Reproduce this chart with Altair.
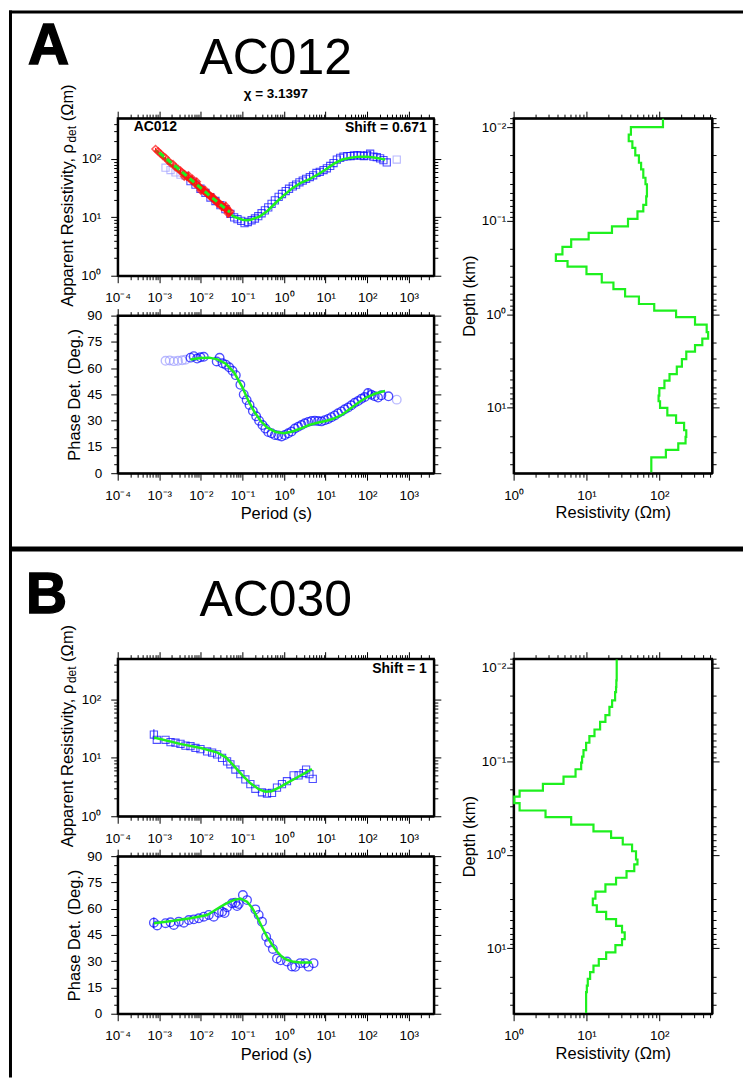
import altair as alt
import pandas as pd

FONT = "Liberation Sans"
BLUE = "#0505ff"
LIGHT = "#9d9dff"
RED = "#ff1010"
GREEN = "#1ef01e"

# ---------------- Section A : AC012 (values as log10 of period / resistivity) -------------
A_rho_masked_lt = [-2.85, -2.73, -2.61, -2.49, -2.37, 2.71]
A_rho_masked_lr = [1.85, 1.81, 1.77, 1.73, 1.71, 1.99]
A_rho_lt = [-2.25, -2.13, -2.01, -1.89, -1.77, -1.65, -1.53, -1.41, -1.29, -1.20, -1.12, -1.03, -0.95, -0.87,
            -0.78, -0.70, -0.62, -0.54, -0.46, -0.38, -0.30, -0.22, -0.13, -0.05, 0.04, 0.12, 0.21, 0.29, 0.37,
            0.45, 0.53, 0.62, 0.70, 0.78, 0.86, 0.95, 1.03, 1.11, 1.19, 1.27, 1.35, 1.43, 1.52, 1.60, 1.68, 1.76,
            1.84, 1.92, 2.00, 2.07, 2.15, 2.23, 2.31, 2.39, 2.47]
A_rho_lr = [1.62, 1.56, 1.49, 1.42, 1.34, 1.28, 1.21, 1.14, 1.06, 1.00, 0.97, 0.94, 0.90, 0.92, 0.95, 0.98, 1.02,
            1.07, 1.12, 1.17, 1.23, 1.29, 1.35, 1.40, 1.45, 1.49, 1.53, 1.56, 1.60, 1.63, 1.66, 1.69, 1.72, 1.76,
            1.78, 1.81, 1.84, 1.88, 1.93, 1.99, 2.02, 2.04, 2.05, 2.05, 2.06, 2.06, 2.06, 2.05, 2.06, 2.09, 2.04,
            2.03, 2.01, 1.98, 1.94]
A_rho_eb_lt = [2.07]
A_rho_eb_lr = [2.09]
A_rho_eb_e = [0.05]
A_red_lt = [-3.09, -3.03, -2.97, -2.91, -2.85, -2.79, -2.73, -2.67, -2.61, -2.55, -2.49, -2.44, -2.39, -2.34,
            -2.29, -2.24, -2.19, -2.14, -2.10, -2.06, -2.02, -1.98, -1.94, -1.90, -1.86, -1.82, -1.78, -1.74,
            -1.70, -1.66, -1.62, -1.58, -1.54, -1.50, -1.46, -1.42, -1.38, -1.35, -1.32, -1.30, -2.40, -2.30,
            -2.20, -2.10, -2.00, -1.90, -1.80, -1.70, -1.60, -1.50, -1.40, -1.35]
A_red_lr = [2.17, 2.13, 2.09, 2.05, 2.02, 1.97, 1.93, 1.91, 1.86, 1.83, 1.80, 1.76, 1.74, 1.70, 1.68, 1.64, 1.62,
            1.58, 1.57, 1.53, 1.51, 1.49, 1.46, 1.44, 1.41, 1.40, 1.36, 1.35, 1.31, 1.30, 1.27, 1.26, 1.22, 1.21,
            1.18, 1.16, 1.13, 1.12, 1.08, 1.10, 1.70, 1.72, 1.66, 1.61, 1.46, 1.47, 1.38, 1.34, 1.24, 1.18, 1.19,
            1.07]
A_red_e = [0.02, 0.02, 0.02, 0.02, 0.02, 0.03, 0.03, 0.03, 0.03, 0.03, 0.04, 0.04, 0.04, 0.05, 0.05, 0.04, 0.05,
           0.05, 0.06, 0.05, 0.05, 0.06, 0.05, 0.06, 0.06, 0.05, 0.06, 0.07, 0.06, 0.06, 0.07, 0.06, 0.07, 0.07,
           0.06, 0.07, 0.08, 0.07, 0.08, 0.08, 0.05, 0.05, 0.05, 0.06, 0.06, 0.06, 0.06, 0.07, 0.07, 0.07, 0.08,
           0.08]
A_fit_lt = [-3.09, -2.8, -2.5, -2.2, -1.9, -1.6, -1.4, -1.2, -1.0, -0.9, -0.8, -0.6, -0.4, -0.2, 0.0, 0.2, 0.4,
            0.6, 0.8, 1.0, 1.2, 1.4, 1.6, 1.8, 2.0, 2.2, 2.43]
A_fit_lr = [2.15, 1.95, 1.77, 1.59, 1.41, 1.23, 1.11, 1.01, 0.96, 0.95, 0.96, 1.01, 1.11, 1.25, 1.38, 1.50, 1.59,
            1.65, 1.73, 1.82, 1.92, 1.99, 2.02, 2.04, 2.04, 2.02, 1.99]
A_fitred_lt = [-3.0, -2.5, -2.0, -1.5, -1.3]
A_fitred_lr = [2.11, 1.81, 1.50, 1.20, 1.09]

A_ph_masked_lt = [-2.85, -2.75, -2.65, -2.55, -2.45, -2.37, 2.71]
A_ph_masked_v = [64.2, 64.4, 64.0, 64.2, 64.5, 64.8, 42.0]
A_ph_lt = [-2.25, -2.17, -2.09, -2.01, -1.93, -1.62, -1.55, -1.48, -1.40, -1.32, -1.24, -1.16, -1.05, -0.97,
           -0.90, -0.83, -0.75, -0.67, -0.60, -0.52, -0.45, -0.38, -0.30, -0.22, -0.14, -0.06, 0.02, 0.10, 0.18,
           0.26, 0.34, 0.42, 0.50, 0.58, 0.66, 0.74, 0.82, 0.90, 0.98, 1.06, 1.14, 1.22, 1.30, 1.38, 1.46, 1.54,
           1.62, 1.70, 1.78, 1.86, 1.94, 2.02, 2.10, 2.18, 2.26, 2.34, 2.51]
A_ph_v = [66.0, 66.8, 65.5, 66.2, 66.5, 63.8, 65.9, 62.8, 62.0, 60.5, 58.5, 56.0, 50.5, 45.0, 41.8, 39.0, 35.5,
          32.5, 30.0, 27.5, 25.5, 23.5, 22.8, 21.8, 21.5, 21.0, 21.8, 22.8, 23.8, 25.5, 26.5, 27.5, 28.5, 29.3,
          29.8, 30.0, 29.8, 29.6, 30.3, 31.0, 32.0, 33.0, 34.2, 35.3, 36.5, 37.5, 38.8, 40.2, 41.2, 42.5, 43.5,
          45.8, 44.8, 44.0, 43.2, 44.5, 43.9]
A_ph_eb_lt = [1.94, 2.02, 2.10]
A_ph_eb_v = [43.5, 45.8, 44.8]
A_ph_eb_e = [2.0, 2.5, 2.0]
A_phfit_lt = [-2.25, -2.0, -1.8, -1.6, -1.4, -1.2, -1.0, -0.85, -0.7, -0.55, -0.4, -0.2, 0.0, 0.2, 0.4, 0.6, 0.8,
              1.0, 1.2, 1.4, 1.6, 1.8, 2.0, 2.2, 2.43]
A_phfit_v = [65.0, 65.8, 66.0, 65.0, 62.5, 57.5, 49.0, 41.0, 34.5, 29.5, 26.0, 23.5, 22.8, 23.8, 25.5, 27.5, 28.8,
             29.8, 31.2, 33.5, 37.0, 40.5, 43.5, 45.5, 47.0]

# model A: log10 of layer top depth (km) and log10 of resistivity (last entry = bottom)
A_mod_ld = [-2.09, -2.0, -1.92, -1.85, -1.78, -1.70, -1.62, -1.55, -1.46, -1.39, -1.26, -1.17, -1.10, -1.02,
            -0.94, -0.87, -0.80, -0.72, -0.64, -0.57, -0.51, -0.43, -0.34, -0.27, -0.19, -0.11, -0.04, 0.03, 0.11,
            0.19, 0.26, 0.33, 0.40, 0.48, 0.56, 0.64, 0.71, 0.79, 0.87, 0.93, 1.00, 1.08, 1.16, 1.24, 1.31, 1.38,
            1.45, 1.53, 1.69]
A_mod_lr = [2.05, 1.61, 1.58, 1.63, 1.67, 1.72, 1.75, 1.78, 1.81, 1.83, 1.82, 1.78, 1.70, 1.57, 1.35, 1.03, 0.79,
            0.67, 0.58, 0.74, 1.00, 1.21, 1.37, 1.53, 1.72, 1.93, 2.23, 2.49, 2.65, 2.67, 2.59, 2.49, 2.37, 2.31,
            2.24, 2.14, 2.07, 2.00, 1.99, 2.01, 2.11, 2.23, 2.34, 2.37, 2.36, 2.26, 2.09, 1.89, 1.89]

# ---------------- Section B : AC030 ----------------
B_rho_lt = [-3.13, -3.06, -2.85, -2.73, -2.61, -2.49, -2.37, -2.25, -2.13, -2.01, -1.85, -1.73, -1.61, -1.49,
            -1.37, -1.29, -1.17, -1.05, -0.93, -0.81, -0.69, -0.53, -0.41, -0.29, -0.17, -0.05, 0.07, 0.23, 0.35,
            0.47, 0.53, 0.61, 0.69]
B_rho_lr = [1.40, 1.31, 1.31, 1.27, 1.26, 1.24, 1.21, 1.20, 1.17, 1.15, 1.11, 1.09, 1.06, 1.00, 0.94, 0.89, 0.80,
            0.72, 0.63, 0.55, 0.47, 0.41, 0.39, 0.40, 0.49, 0.55, 0.60, 0.70, 0.70, 0.74, 0.80, 0.72, 0.64]
B_rho_eb_lt = [-3.13]
B_rho_eb_lr = [1.40]
B_rho_eb_e = [0.09]
B_fit_lt = [-3.13, -2.5, -2.0, -1.6, -1.4, -1.2, -1.0, -0.8, -0.6, -0.45, -0.3, -0.1, 0.1, 0.3, 0.5, 0.67]
B_fit_lr = [1.35, 1.24, 1.17, 1.09, 1.01, 0.86, 0.70, 0.56, 0.46, 0.42, 0.43, 0.50, 0.58, 0.66, 0.74, 0.81]

B_ph_lt = [-3.13, -3.05, -2.85, -2.73, -2.65, -2.53, -2.41, -2.29, -2.17, -2.05, -1.93, -1.81, -1.69, -1.57,
           -1.49, -1.43, -1.37, -1.25, -1.17, -1.13, -1.09, -0.99, -0.89, -0.69, -0.61, -0.53, -0.43, -0.36,
           -0.27, -0.17, -0.08, 0.07, 0.19, 0.27, 0.39, 0.51, 0.59, 0.71]
B_ph_v = [52.0, 50.4, 51.7, 52.2, 50.7, 52.6, 52.0, 53.5, 53.9, 54.5, 55.4, 56.4, 55.4, 57.7, 58.3, 57.5, 60.8,
          63.1, 63.4, 61.5, 62.7, 67.8, 64.9, 59.6, 56.4, 52.6, 44.0, 40.5, 37.0, 31.5, 30.5, 29.8, 27.0, 26.8,
          28.9, 28.9, 26.9, 28.9]
B_ph_eb_lt = [-3.13]
B_ph_eb_v = [52.0]
B_ph_eb_e = [3.0]
B_phfit_lt = [-3.13, -2.7, -2.25, -1.85, -1.7, -1.53, -1.35, -1.21, -1.05, -0.89, -0.77, -0.65, -0.53, -0.41,
              -0.29, -0.17, -0.05, 0.07, 0.2, 0.39, 0.67]
B_phfit_v = [51.7, 53.0, 54.5, 56.4, 58.5, 61.1, 63.5, 64.9, 65.8, 64.0, 60.5, 55.4, 49.5, 44.0, 39.5, 35.5, 32.5,
             30.8, 29.8, 29.2, 29.2]

B_mod_ld = [-2.088, -1.865, -1.794, -1.74, -1.652, -1.581, -1.493, -1.421, -1.34, -1.269, -1.198, -1.12, -1.049,
            -0.985, -0.915, -0.836, -0.759, -0.687, -0.623, -0.553, -0.474, -0.404, -0.322, -0.251, -0.181, -0.11,
            -0.038, 0.05, 0.103, 0.174, 0.245, 0.316, 0.394, 0.468, 0.539, 0.61, 0.688, 0.759, 0.83, 0.901, 0.965,
            1.043, 1.114, 1.185, 1.255, 1.327, 1.398, 1.468, 1.69]
B_mod_lr = [1.415, 1.41, 1.406, 1.393, 1.352, 1.315, 1.26, 1.187, 1.11, 1.04, 0.995, 0.959, 0.94, 0.927, 0.85,
            0.685, 0.402, 0.082, 0.009, 0.082, 0.438, 0.79, 1.096, 1.338, 1.498, 1.626, 1.68, 1.70, 1.656, 1.55,
            1.406, 1.26, 1.123, 1.087, 1.142, 1.27, 1.406, 1.488, 1.525, 1.488, 1.397, 1.27, 1.169, 1.096, 1.05,
            1.018, 1.005, 0.995, 0.995]

# ---------------- helpers ----------------
def pts(lt, v, logv=True):
    return pd.DataFrame({"T": [10 ** a for a in lt], "v": [10 ** b if logv else b for b in v]})


def errs(lt, v, e, logv=True):
    return pd.DataFrame({"T": [10 ** a for a in lt],
                         "lo": [10 ** (b - d) if logv else b - d for b, d in zip(v, e)],
                         "hi": [10 ** (b + d) if logv else b + d for b, d in zip(v, e)]})


def model(ld, lr):
    return pd.DataFrame({"i": list(range(len(ld))), "d": [10 ** a for a in ld], "r": [10 ** b for b in lr]})


T_SCALE = alt.Scale(type="log", domain=[1e-4, 4000], nice=False)
RHO_SCALE = alt.Scale(type="log", domain=[1, 500], nice=False)
PH_SCALE = alt.Scale(domain=[0, 90], nice=False, zero=False)
MR_SCALE = alt.Scale(type="log", domain=[1, 530], nice=False)
D_SCALE = alt.Scale(type="log", domain=[0.008, 50], nice=False, reverse=True)


def logticks(lo_e, hi_e, vmin, vmax):
    out = []
    for e in range(lo_e, hi_e + 1):
        for m in range(1, 10):
            v = float(f"{m}e{e}")
            if vmin * 1.0001 <= v <= vmax * 0.999 or abs(v - vmin) < vmin * 1e-6:
                out.append(v)
    return out


T_TICKS = logticks(-4, 3, 1e-4, 4000)
RHO_TICKS = logticks(0, 2, 1, 500)
MR_TICKS = logticks(0, 2, 1, 530)
D_TICKS = logticks(-3, 1, 0.008, 50)
PH_TICKS = list(range(0, 91, 5))

LOGTEST = "abs(log(datum.value)/LN10 - round(log(datum.value)/LN10)) < 0.001"
EXP = "round(log(datum.value)/LN10)"
SUP = {-4: "\u207b\u2074", -3: "\u207b\u00b3", -2: "\u207b\u00b2", -1: "\u207b\u00b9",
       0: "\u2070", 1: "\u00b9", 2: "\u00b2", 3: "\u00b3"}
_chain = "''"
for _e in sorted(SUP):
    _chain = f"({EXP} == {_e} ? '10{SUP[_e]}' : {_chain})"
LOG_LABELS = f"{LOGTEST} ? {_chain} : ''"
PH_TEST = "datum.value % 15 == 0"
PH_LABELS = "datum.value % 15 == 0 ? datum.value : ''"


def axis(orient, values, test, label_expr=None, title=None, label_pad=8, title_pad=4):
    kw = dict(orient=orient, values=values,
              tickSize={"condition": {"test": test, "value": 7}, "value": 4},
              grid=False, domainWidth=2, domainColor="black", tickColor="black", tickWidth=1,
              labelFlush=False, labelOverlap=False, title=title)
    if label_expr is None:
        kw["labels"] = False
    else:
        kw.update(labels=True, labelExpr=label_expr, labelPadding=label_pad)
    if title is not None:
        kw["titlePadding"] = title_pad
    return alt.Axis(**kw)


ONE = pd.DataFrame({"k": [0]})


def label(txt, x, y, size, weight="normal", align="left", angle=0, stroke=0.0):
    mk = dict(text=txt, font=FONT, fontSize=size, fontWeight=weight, align=align,
              baseline="alphabetic", color="black")
    if angle:
        mk["angle"] = angle
    if stroke:
        mk.update(stroke="black", strokeWidth=stroke)
    return alt.Chart(ONE).mark_text(**mk).encode(x=alt.value(x), y=alt.value(y))


def block(x1, x2, y1, y2):
    # solid black frame band of the figure panels (no stroke, so its extent is exact)
    return alt.Chart(ONE).mark_rect(color="black", strokeWidth=0).encode(
        x=alt.value(x1), x2=alt.value(x2), y=alt.value(y1), y2=alt.value(y2))


def rho_title():
    return [label("Apparent Resistivity, \u03c1", -45, 189, 16.5, angle=270),
            label("det", -41.5, 24.5, 12, angle=270),
            label("(\u03a9m)", -45, 3.2, 16.5, angle=270)]


X_NONE = alt.X("T:Q", scale=T_SCALE, axis=None)


def sq(df, color, x, y):
    return alt.Chart(df).mark_point(shape="square", filled=False, color=color, size=52,
                                    strokeWidth=1.1).encode(x=x, y=y)


def circ(df, color, x, y):
    return alt.Chart(df).mark_point(shape="circle", filled=False, color=color, size=74,
                                    strokeWidth=1.35).encode(x=x, y=y)


def ebar(df, color, scale):
    return alt.Chart(df).mark_rule(color=color, strokeWidth=1).encode(
        x=X_NONE, y=alt.Y("lo:Q", scale=scale, axis=None), y2="hi:Q")


def fitline(df, yscale, dash=None, top=True, width=2.5):
    mk = dict(color=GREEN, strokeWidth=width)
    if dash:
        mk["strokeDash"] = dash
    if top:
        x = alt.X("T:Q", scale=T_SCALE, axis=axis("top", T_TICKS, LOGTEST))
        test = LOGTEST if yscale is RHO_SCALE else PH_TEST
        ticks = RHO_TICKS if yscale is RHO_SCALE else PH_TICKS
        y = alt.Y("v:Q", scale=yscale, axis=axis("right", ticks, test))
    else:
        x = X_NONE
        y = alt.Y("v:Q", scale=yscale, axis=None)
    return alt.Chart(df).mark_line(**mk).encode(x=x, y=y)


def rho_axes():
    return (alt.X("T:Q", scale=T_SCALE, axis=axis("bottom", T_TICKS, LOGTEST, LOG_LABELS, label_pad=8)),
            alt.Y("v:Q", scale=RHO_SCALE, axis=axis("left", RHO_TICKS, LOGTEST, LOG_LABELS, label_pad=10)))


def ph_axes():
    return (alt.X("T:Q", scale=T_SCALE, axis=axis("bottom", T_TICKS, LOGTEST, LOG_LABELS,
                                                   title="Period (s)", label_pad=8, title_pad=4)),
            alt.Y("v:Q", scale=PH_SCALE, axis=axis("left", PH_TICKS, PH_TEST, PH_LABELS,
                                                    title="Phase Det. (Deg.)", label_pad=9, title_pad=4)))


Y_RHO_NONE = alt.Y("v:Q", scale=RHO_SCALE, axis=None)
Y_PH_NONE = alt.Y("v:Q", scale=PH_SCALE, axis=None)


def model_chart(df):
    line = alt.Chart(df).mark_line(interpolate="step-before", color=GREEN, strokeWidth=2.2).encode(
        x=alt.X("r:Q", scale=MR_SCALE, axis=axis("bottom", MR_TICKS, LOGTEST, LOG_LABELS,
                                                  title="Resistivity (\u03a9m)", label_pad=8, title_pad=3)),
        y=alt.Y("d:Q", scale=D_SCALE, axis=axis("left", D_TICKS, LOGTEST, LOG_LABELS,
                                                 title="Depth (km)", label_pad=1, title_pad=4)),
        order=alt.Order("i:Q"))
    ghost = alt.Chart(df).mark_point(opacity=0).encode(
        x=alt.X("r:Q", scale=MR_SCALE, axis=axis("top", MR_TICKS, LOGTEST)),
        y=alt.Y("d:Q", scale=D_SCALE, axis=axis("right", D_TICKS, LOGTEST)))
    return alt.layer(line, ghost).resolve_axis(x="independent", y="independent").properties(
        width=199, height=356)


# ---------------- Section A charts ----------------
xa, ya = rho_axes()
rhoA = alt.layer(
    sq(pts(A_rho_masked_lt, A_rho_masked_lr), LIGHT, xa, ya),
    sq(pts(A_rho_lt, A_rho_lr), BLUE, X_NONE, Y_RHO_NONE),
    ebar(errs(A_rho_eb_lt, A_rho_eb_lr, A_rho_eb_e), BLUE, RHO_SCALE),
    fitline(pts(A_fit_lt, A_fit_lr), RHO_SCALE),
    alt.Chart(pts(A_red_lt, A_red_lr)).mark_point(shape="diamond", filled=False, color=RED, size=52,
                                                  strokeWidth=1.5).encode(x=X_NONE, y=Y_RHO_NONE),
    ebar(errs(A_red_lt, A_red_lr, A_red_e), RED, RHO_SCALE),
    fitline(pts(A_fitred_lt, A_fitred_lr), RHO_SCALE, dash=[6, 4], top=False, width=3),
    label("A", -90, -54, 57, weight="bold", stroke=1.5),
    label("AC012", 158.5, -44, 50, align="center"),
    label("\u03c7 = 3.1397", 158.5, -20, 13.5, weight="bold", align="center"),
    label("AC012", 16, 13, 14, weight="bold"),
    label("Shift = 0.671", 310, 14, 14, weight="bold", align="right"),
    *rho_title(),
    block(-109, 627, -108, -105),
    block(-109, -106, -108, 962),
    block(-109, 627, 429.5, 434.5),
).resolve_axis(x="independent", y="independent").properties(width=317, height=158)

xp, yp = ph_axes()
phA = alt.layer(
    circ(pts(A_ph_masked_lt, A_ph_masked_v, False), LIGHT, xp, yp),
    circ(pts(A_ph_lt, A_ph_v, False), BLUE, X_NONE, Y_PH_NONE),
    ebar(errs(A_ph_eb_lt, A_ph_eb_v, A_ph_eb_e, False), BLUE, PH_SCALE),
    fitline(pts(A_phfit_lt, A_phfit_v, False), PH_SCALE),
).resolve_axis(x="independent", y="independent").properties(width=317, height=158)

# flush layout: nested concat groups count as zero-size, so the spacings below
# include the width of the left column (317 + 80) and the section height (356 + 186)
COL_GAP = 317 + 80
SEC_GAP = 356 + 186

secA = alt.hconcat(alt.vconcat(rhoA, phA, spacing=40, bounds="flush"),
                   model_chart(model(A_mod_ld, A_mod_lr)), spacing=COL_GAP, bounds="flush")

# ---------------- Section B charts ----------------
xb, yb = rho_axes()
rhoB = alt.layer(
    sq(pts(B_rho_lt, B_rho_lr), BLUE, xb, yb),
    ebar(errs(B_rho_eb_lt, B_rho_eb_lr, B_rho_eb_e), BLUE, RHO_SCALE),
    fitline(pts(B_fit_lt, B_fit_lr), RHO_SCALE),
    label("B", -92, -46, 57, weight="bold", stroke=1.5),
    label("AC030", 158.5, -43, 50, align="center"),
    label("Shift = 1", 310, 14.7, 14, weight="bold", align="right"),
    *rho_title(),
).resolve_axis(x="independent", y="independent").properties(width=317, height=158)

xq, yq = ph_axes()
phB = alt.layer(
    circ(pts(B_ph_lt, B_ph_v, False), BLUE, xq, yq),
    ebar(errs(B_ph_eb_lt, B_ph_eb_v, B_ph_eb_e, False), BLUE, PH_SCALE),
    fitline(pts(B_phfit_lt, B_phfit_v, False), PH_SCALE),
).resolve_axis(x="independent", y="independent").properties(width=317, height=158)

secB = alt.hconcat(alt.vconcat(rhoB, phB, spacing=40, bounds="flush"),
                   model_chart(model(B_mod_ld, B_mod_lr)), spacing=COL_GAP, bounds="flush")

chart = alt.vconcat(secA, secB, spacing=SEC_GAP, bounds="flush").properties(padding=0).configure(
    font=FONT, padding=0).configure_view(stroke="black", strokeWidth=2).configure_axis(
    labelFont=FONT, titleFont=FONT, labelFontSize=13.5, titleFontSize=16.5, titleFontWeight="normal",
    labelColor="black", titleColor="black")

chart.save("out.html", embed_options={"renderer": "svg", "actions": False})
